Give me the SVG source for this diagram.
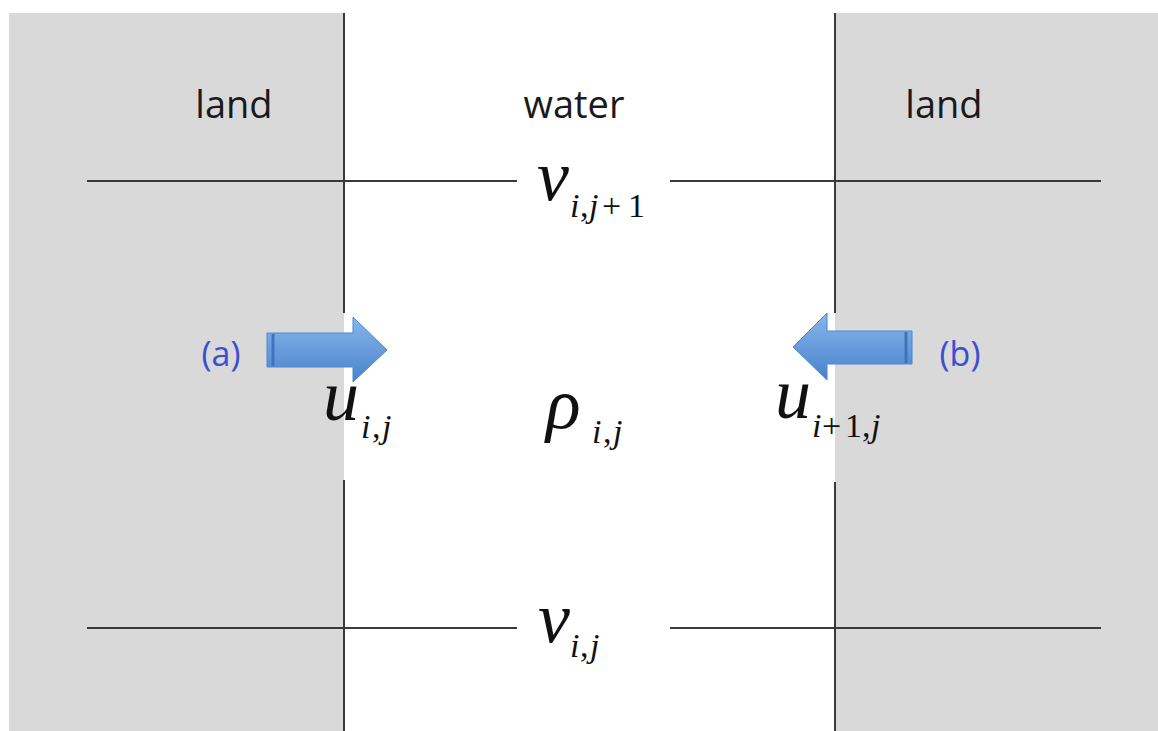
<svg xmlns="http://www.w3.org/2000/svg" width="1158" height="731" viewBox="0 0 1158 731">
<defs>
<style>
.land{fill:#d9d9d9}
.ln{stroke:#3a3a3a;stroke-width:2;fill:none}
.lbl{font-family:"Open Sans","Liberation Sans",sans-serif;font-size:38px;fill:#1a1a1a;text-anchor:middle}
.tag{font-family:"Open Sans","Liberation Sans",sans-serif;font-size:34px;fill:#3a4fd2;text-anchor:middle}
.m{font-family:"Liberation Serif","Times New Roman",serif;font-style:italic;font-size:72px;fill:#111}
.s{font-size:34px}
.r{font-style:normal}
.arr{fill:url(#blue);stroke:#4f86cf;stroke-width:1}
</style>
<linearGradient id="blue" x1="0" y1="0" x2="0" y2="1">
<stop offset="0" stop-color="#86b6ec"/>
<stop offset="1" stop-color="#4a82cc"/>
</linearGradient>
</defs>
<rect width="1158" height="731" fill="#ffffff"/>
<g id="land-left"><rect class="land" x="9" y="13" width="335" height="718"/><text class="lbl" x="234" y="118">land</text></g>
<g id="land-right"><rect class="land" x="835" y="13" width="323" height="718"/><text class="lbl" x="944" y="118">land</text></g>
<g id="water"><text class="lbl" x="574" y="118">water</text></g>
<g id="connectors">
<line class="ln" x1="344" y1="13" x2="344" y2="313"/>
<line class="ln" x1="344" y1="480" x2="344" y2="731"/>
<line class="ln" x1="835" y1="13" x2="835" y2="313"/>
<line class="ln" x1="835" y1="482" x2="835" y2="731"/>
<line class="ln" x1="87" y1="181" x2="517" y2="181"/>
<line class="ln" x1="670" y1="181" x2="1101" y2="181"/>
<line class="ln" x1="87" y1="628" x2="517" y2="628"/>
<line class="ln" x1="670" y1="628" x2="1101" y2="628"/>
</g>
<g id="arrow-a">
<polygon class="arr" points="267,333 353,333 353,317 387,350 353,382 353,367 267,367"/>
<line x1="273" y1="334" x2="273" y2="366" stroke="#3f74bd" stroke-width="3"/>
<text class="tag" x="221" y="366">(a)</text>
</g>
<g id="arrow-b">
<polygon class="arr" points="912,331 827,331 827,313 793,347 827,380 827,364 912,364"/>
<line x1="906" y1="332" x2="906" y2="363" stroke="#3f74bd" stroke-width="3"/>
<text class="tag" x="960" y="366">(b)</text>
</g>
<g id="v-top"><text class="m" x="537" y="200">v<tspan class="s" x="570" y="217">i</tspan><tspan class="s r" x="580">,</tspan><tspan class="s" x="589">j</tspan><tspan class="s r" x="602">+</tspan><tspan class="s r" x="628">1</tspan></text></g>
<g id="v-bottom"><text class="m" x="538" y="642">v<tspan class="s" x="570" y="657">i</tspan><tspan class="s r" x="580">,</tspan><tspan class="s" x="590">j</tspan></text></g>
<g id="u-left"><text class="m" x="323" y="420">u<tspan class="s" x="361" y="438">i</tspan><tspan class="s r" x="372">,</tspan><tspan class="s" x="382">j</tspan></text></g>
<g id="rho"><text class="m" x="546" y="428">ρ<tspan class="s" x="592" y="443">i</tspan><tspan class="s r" x="603">,</tspan><tspan class="s" x="613">j</tspan></text></g>
<g id="u-right"><text class="m" x="775" y="418">u<tspan class="s" x="812" y="437">i</tspan><tspan class="s r" x="822">+</tspan><tspan class="s r" x="845">1</tspan><tspan class="s r" x="862">,</tspan><tspan class="s" x="871">j</tspan></text></g>
</svg>
